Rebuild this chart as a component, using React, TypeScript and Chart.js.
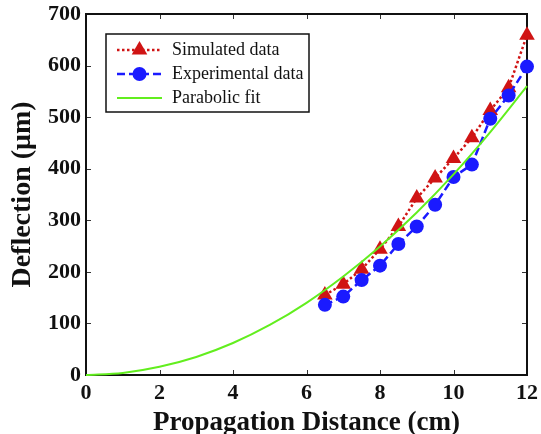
import React, { useEffect, useRef } from 'react';
import { Chart, registerables } from 'chart.js';

Chart.register(...registerables);

// ---- Data ----
const distances = [6.5, 7, 7.5, 8, 8.5, 9, 9.5, 10, 10.5, 11, 11.5, 12];
const simulated = [155, 176, 205, 244, 288, 343, 382, 420, 460, 513, 557, 659];
const experimental = [136, 152, 184, 212, 254, 288, 330, 384, 408, 497, 542, 598];
const fitX = [0, 1, 2, 3, 4, 5, 6, 7, 8, 9, 10, 11, 12];
const fitY = [0, 4, 16, 35, 62, 97, 140, 191, 249, 315, 389, 471, 560];
const xTicks = [0, 2, 4, 6, 8, 10, 12];
const yTicks = [0, 100, 200, 300, 400, 500, 600, 700];
const legendLabels = ['Simulated data', 'Experimental data', 'Parabolic fit'];
const xTitle = 'Propagation Distance (cm)';
const yTitle = 'Deflection (\u03bcm)';

const SERIF = "'Liberation Serif', 'Times New Roman', serif";
const RED = '#d01414';
const BLUE = '#1a1aff';
const GREEN = '#62ee1e';

function drawTriangle(ctx: CanvasRenderingContext2D, x: number, y: number, r: number, color: string) {
  ctx.beginPath();
  ctx.moveTo(x, y - r);
  ctx.lineTo(x + r * Math.sin((2 * Math.PI) / 3), y + r / 2);
  ctx.lineTo(x - r * Math.sin((2 * Math.PI) / 3), y + r / 2);
  ctx.closePath();
  ctx.fillStyle = color;
  ctx.fill();
}

function drawCircle(ctx: CanvasRenderingContext2D, x: number, y: number, r: number, color: string) {
  ctx.beginPath();
  ctx.arc(x, y, r, 0, Math.PI * 2);
  ctx.fillStyle = color;
  ctx.fill();
}

const framePlugin = {
  id: 'frameTicks',
  beforeDatasetsDraw(chart: any) {
    const ctx = chart.ctx as CanvasRenderingContext2D;
    const a = chart.chartArea;
    const xs = chart.scales.x;
    const ys = chart.scales.y;
    const tl = 5;
    ctx.save();
    ctx.strokeStyle = '#333';
    ctx.lineWidth = 1;
    ctx.beginPath();
    xTicks.forEach((v) => {
      const px = Math.round(xs.getPixelForValue(v)) + 0.5;
      ctx.moveTo(px, a.bottom);
      ctx.lineTo(px, a.bottom - tl);
      ctx.moveTo(px, a.top);
      ctx.lineTo(px, a.top + tl);
    });
    yTicks.forEach((v) => {
      const py = Math.round(ys.getPixelForValue(v)) + 0.5;
      ctx.moveTo(a.left, py);
      ctx.lineTo(a.left + tl, py);
      ctx.moveTo(a.right, py);
      ctx.lineTo(a.right - tl, py);
    });
    ctx.stroke();
    ctx.strokeStyle = '#111';
    ctx.lineWidth = 2;
    ctx.strokeRect(a.left, a.top, a.right - a.left, a.bottom - a.top);
    ctx.restore();
  },
};

const legendPlugin = {
  id: 'boxLegend',
  afterDatasetsDraw(chart: any) {
    const ctx = chart.ctx as CanvasRenderingContext2D;
    const a = chart.chartArea;
    const bx = a.left + 20;
    const by = a.top + 20;
    const bw = 203;
    const bh = 78;
    ctx.save();
    ctx.fillStyle = '#fff';
    ctx.fillRect(bx, by, bw, bh);
    ctx.strokeStyle = '#111';
    ctx.lineWidth = 1.5;
    ctx.strokeRect(bx, by, bw, bh);

    const rows = [by + 16, by + 40, by + 64];
    const lx1 = bx + 11;
    const lx2 = bx + 56;
    const mx = (lx1 + lx2) / 2;

    // Simulated
    ctx.lineWidth = 2.5;
    ctx.strokeStyle = RED;
    ctx.setLineDash([2.5, 2.5]);
    ctx.beginPath();
    ctx.moveTo(lx1, rows[0]);
    ctx.lineTo(lx2, rows[0]);
    ctx.stroke();
    drawTriangle(ctx, mx, rows[0], 9, RED);

    // Experimental
    ctx.strokeStyle = BLUE;
    ctx.setLineDash([8, 4]);
    ctx.beginPath();
    ctx.moveTo(lx1, rows[1]);
    ctx.lineTo(lx2, rows[1]);
    ctx.stroke();
    drawCircle(ctx, mx, rows[1], 7, BLUE);

    // Fit
    ctx.strokeStyle = GREEN;
    ctx.setLineDash([]);
    ctx.lineWidth = 2;
    ctx.beginPath();
    ctx.moveTo(lx1, rows[2]);
    ctx.lineTo(lx2, rows[2]);
    ctx.stroke();

    ctx.fillStyle = '#111';
    ctx.font = `18px ${SERIF}`;
    ctx.textBaseline = 'middle';
    ctx.textAlign = 'left';
    legendLabels.forEach((t, i) => ctx.fillText(t, bx + 66, rows[i]));
    ctx.restore();
  },
};

export default function App() {
  const ref = useRef<HTMLCanvasElement>(null);

  useEffect(() => {
    document.body.style.margin = '0';
    const canvas = ref.current;
    if (!canvas) return;

    const chart = new Chart(canvas, {
      type: 'line',
      data: {
        datasets: [
          {
            label: legendLabels[0],
            data: distances.map((x, i) => ({ x, y: simulated[i] })),
            borderColor: RED,
            backgroundColor: RED,
            borderWidth: 2.5,
            borderDash: [2.5, 2.5],
            pointStyle: 'triangle',
            pointRadius: 9,
            pointBorderWidth: 0,
            pointBackgroundColor: RED,
            tension: 0,
            clip: false,
            order: 3,
          } as any,
          {
            label: legendLabels[1],
            data: distances.map((x, i) => ({ x, y: experimental[i] })),
            borderColor: BLUE,
            backgroundColor: BLUE,
            borderWidth: 2.5,
            borderDash: [8, 4],
            pointStyle: 'circle',
            pointRadius: 7,
            pointBorderWidth: 0,
            pointBackgroundColor: BLUE,
            tension: 0,
            clip: false,
            order: 2,
          } as any,
          {
            label: legendLabels[2],
            data: fitX.map((x, i) => ({ x, y: fitY[i] })),
            borderColor: GREEN,
            backgroundColor: GREEN,
            borderWidth: 2,
            pointRadius: 0,
            cubicInterpolationMode: 'monotone',
            clip: false,
            order: 1,
          } as any,
        ],
      },
      options: {
        animation: false,
        responsive: false,
        layout: { padding: { top: 14, right: 14, left: 0, bottom: 0 } },
        plugins: {
          legend: { display: false },
          tooltip: { enabled: false },
        },
        scales: {
          x: {
            type: 'linear',
            min: 0,
            max: 12,
            grid: { display: false, drawTicks: false, tickLength: 0 },
            border: { display: false },
            afterBuildTicks: (s: any) => {
              s.ticks = xTicks.map((v) => ({ value: v }));
            },
            afterFit: (s: any) => {
              s.height = 59;
              s.paddingLeft = 0;
              s.paddingRight = 0;
            },
            ticks: {
              autoSkip: false,
              maxRotation: 0,
              color: '#111',
              padding: 5,
              font: { family: SERIF, size: 22, weight: 'bold' },
            },
            title: {
              display: true,
              text: xTitle,
              color: '#111',
              font: { family: SERIF, size: 27, weight: 'bold', lineHeight: 0.8 },
              padding: { top: 0, bottom: 0 },
            },
          },
          y: {
            type: 'linear',
            min: 0,
            max: 700,
            grid: { display: false, drawTicks: false, tickLength: 0 },
            border: { display: false },
            afterBuildTicks: (s: any) => {
              s.ticks = yTicks.map((v) => ({ value: v }));
            },
            afterFit: (s: any) => {
              s.width = 86;
              s.paddingTop = 0;
              s.paddingBottom = 0;
            },
            ticks: {
              autoSkip: false,
              color: '#111',
              padding: 5,
              font: { family: SERIF, size: 22, weight: 'bold' },
            },
            title: {
              display: true,
              text: yTitle,
              color: '#111',
              font: { family: SERIF, size: 28, weight: 'bold' },
              padding: { top: 6, bottom: 0 },
            },
          },
        },
      } as any,
      plugins: [framePlugin, legendPlugin],
    });

    return () => chart.destroy();
  }, []);

  return (
    <div style={{ width: 541, height: 434 }}>
      <canvas ref={ref} width={541} height={434} style={{ display: 'block' }} />
    </div>
  );
}
